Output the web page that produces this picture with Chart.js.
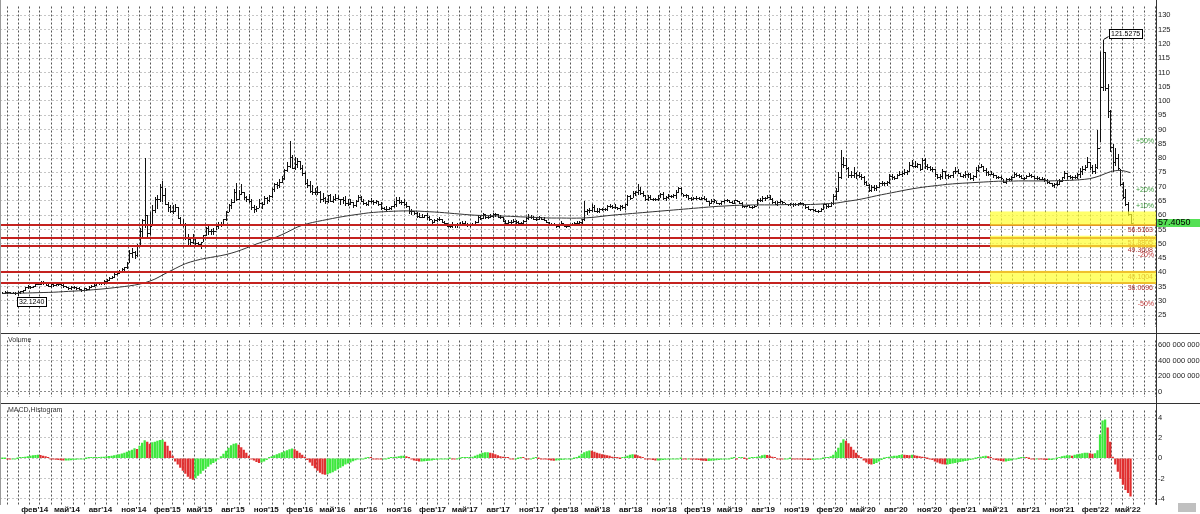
<!DOCTYPE html>
<html>
<head>
<meta charset="utf-8">
<script src="https://cdn.jsdelivr.net/npm/chart.js@4.4.1/dist/chart.umd.min.js"></script>
<style>
  body { margin: 0; background: #fff; width: 1200px; height: 514px; overflow: hidden; position: relative; }
  canvas { position: absolute; left: 0; }
  #priceCanvas { top: 0; }
  #volumeCanvas { top: 334px; }
  #macdCanvas { top: 404px; }
  .line { position: absolute; background: #333; }
  .tag { position: absolute; left: 8px; font: 7px "Liberation Sans", sans-serif; color: #333; }
</style>
</head>
<body>
<canvas id="priceCanvas" width="1200" height="333"></canvas>
<canvas id="volumeCanvas" width="1200" height="69"></canvas>
<canvas id="macdCanvas" width="1200" height="110"></canvas>
<div class="line" style="left:0;top:333px;width:1200px;height:1px"></div>
<div class="line" style="left:0;top:403px;width:1200px;height:1px"></div>
<div class="line" style="left:1156px;top:0;width:1px;height:505px"></div>
<div class="line" style="left:0;top:0;width:1px;height:505px;background:#999"></div>
<div style="position:absolute;left:1178px;top:503px;width:18px;height:9px;background:#c0c0c0"></div>
<div class="tag" style="top:336px">Volume</div>
<div class="tag" style="top:406px">MACD Histogram</div>
<script>
// weekly bars from 18 Nov 2013: [low, high, close]
const weekBars = [
  [32.6,33.2,32.9],[32.9,33.3,33.1],[32.8,33.2,33.0],[32.6,33.0,32.8],[32.6,33.0,32.8],[32.5,33.0,32.7],[32.124,33.3,33.0],
  [32.9,33.6,33.4],[33.2,33.8,33.7],[33.7,35.0,34.8],[34.6,35.5,35.2],[34.6,35.3,34.8],[34.8,35.3,35.1],[35.2,36.0,35.9],[35.8,36.5,36.0],
  [35.8,37.0,36.1],[35.9,36.8,36.6],[35.6,36.7,35.7],[35.1,36.0,35.2],[35.0,35.9,35.8],[35.2,36.2,35.5],[35.5,36.0,35.8],[35.6,36.2,35.8],
  [35.5,36.0,35.6],[35.0,35.8,35.1],[34.7,35.1,34.8],[34.2,34.9,34.4],[34.2,35.2,35.0],[34.5,35.1,34.7],[34.3,34.8,34.4],[34.2,34.8,34.2],
  [33.6,34.3,33.8],[33.9,34.6,34.4],[33.8,34.4,34.1],[34.2,35.2,35.0],[34.8,35.5,35.3],[35.2,36.0,35.7],[35.7,36.5,36.2],[35.8,36.4,36.1],
  [35.8,36.3,36.1],[36.0,37.3,37.0],[36.6,37.6,37.2],[37.2,38.2,38.1],[37.9,38.8,38.5],[38.2,39.6,39.4],[39.3,40.0,39.9],[39.8,40.8,40.6],
  [40.3,41.4,41.0],[40.8,42.0,41.7],[41.5,43.5,43.4],[43.5,47.8,46.8],[45.5,48.6,47.0],[45.0,47.5,46.0],[45.7,50.0,49.5],[50.0,55.5,54.6],
  [52.5,58.5,58.3],[56.0,80.1,60.0],[52.3,60.0,53.7],[53.3,61.0,56.2],
  [56.5,63.6,61.9],[61.0,66.5,65.5],[62.5,67.0,65.5],[65.0,71.0,69.7],[65.0,71.9,67.0],[64.0,69.6,64.0],[61.3,64.5,62.7],[61.0,63.5,61.5],
  [60.8,63.5,61.5],[61.5,64.0,62.8],[58.9,63.0,59.0],[56.5,59.5,57.0],[56.2,58.5,56.5],[51.5,57.2,52.0],[49.5,53.5,51.8],[49.8,52.5,50.5],
  [50.4,53.5,51.9],[49.5,52.3,50.4],[49.2,50.5,49.9],[48.5,50.6,50.5],[51.0,53.0,52.9],[53.0,56.0,55.5],[53.5,56.2,54.5],[53.3,55.2,54.6],
  [53.5,55.5,54.6],[55.0,56.7,56.3],[55.5,57.5,57.0],[56.2,57.5,56.8],[56.5,58.7,58.5],[58.2,61.5,61.0],[61.5,63.8,63.5],[62.5,65.5,64.7],
  [64.5,69.0,68.0],[65.2,71.2,65.7],[65.5,68.8,67.5],[67.5,70.8,68.0],[65.5,68.0,66.2],[64.8,66.7,65.7],[64.5,67.5,65.0],[62.2,65.5,62.8],
  [61.0,63.5,62.0],[61.3,63.3,62.5],[62.8,65.5,64.3],[62.5,64.6,64.0],[64.0,66.7,65.9],[64.4,66.5,65.2],[65.0,67.2,66.6],[66.5,69.5,69.0],
  [68.5,71.2,70.9],[69.5,71.7,70.7],[70.0,72.5,71.6],[71.5,73.7,72.9],
  [72.8,76.0,75.9],[75.5,78.6,77.3],[76.8,86.0,80.5],[76.5,81.0,76.6],[76.0,80.3,78.0],[77.0,80.2,78.9],[76.0,79.0,76.5],[74.0,77.5,74.9],
  [70.9,75.0,71.3],[70.0,72.5,70.5],[68.2,72.0,68.3],[67.5,70.5,68.0],[67.5,69.5,68.0],[67.5,70.3,68.0],[64.5,68.3,65.8],[64.9,67.8,66.0],
  [64.4,66.5,65.0],[64.6,67.2,66.9],[64.8,67.5,65.1],[64.6,66.8,65.7],[65.2,67.5,65.9],[65.6,67.2,65.6],[64.0,65.7,65.5],[64.4,66.4,65.4],
  [63.5,66.6,64.3],[63.6,65.5,63.9],[63.8,65.5,64.5],[63.0,64.5,63.5],[63.3,65.3,65.1],[65.0,67.2,66.5],[64.8,66.7,65.0],[64.0,65.5,64.2],
  [63.5,64.6,63.8],[63.7,65.3,64.8],[64.5,66.0,65.0],[64.0,65.2,64.5],[64.3,65.4,64.8],[63.5,64.8,63.9],[62.3,64.5,62.6],[62.0,63.0,62.3],
  [61.8,63.2,62.3],[62.0,62.8,62.6],[62.2,63.3,63.2],[63.0,64.8,63.9],[63.1,66.5,65.3],[64.2,66.3,64.6],[63.8,65.3,64.7],[63.5,65.5,63.9],
  [63.0,64.5,63.3],[60.8,63.3,61.5],[60.5,62.3,61.3],[60.3,61.5,60.7],
  [59.5,61.2,59.8],[59.3,60.8,59.5],[59.2,60.5,59.4],[59.3,60.2,59.9],[58.6,60.6,59.2],[58.4,59.6,58.6],[56.8,58.3,57.5],[57.5,58.5,58.2],
  [57.8,59.0,58.8],[58.3,59.4,58.6],[57.5,58.8,57.6],[57.0,58.0,57.3],[56.2,57.3,56.3],[55.7,56.8,56.3],[56.0,57.6,56.4],[55.8,56.8,56.7],
  [56.0,57.2,57.0],[56.8,57.5,56.8],[56.6,57.8,57.4],[56.5,57.8,56.9],[56.2,57.2,56.6],[56.2,56.9,56.7],[56.4,57.1,56.8],[56.6,57.9,57.7],
  [57.6,60.2,59.3],[58.8,59.8,59.1],[59.0,60.7,60.3],[59.1,60.5,59.4],[58.9,59.8,59.4],[59.3,60.3,59.8],[59.3,60.6,60.5],[59.7,60.6,60.3],
  [59.2,60.3,59.4],[59.0,60.0,59.4],[57.9,59.4,58.0],[57.2,58.2,57.3],[57.3,58.3,57.6],[57.3,58.3,57.6],[57.6,58.5,57.8],[57.4,58.3,57.5],
  [57.2,57.9,57.4],[57.0,57.6,57.3],[57.3,58.2,58.1],[57.9,59.3,58.9],[58.7,60.3,59.2],[59.1,60.2,59.3],[58.5,59.6,58.7],[58.2,59.0,58.5],
  [58.8,59.6,59.2],[58.5,59.3,58.8],[58.3,59.2,58.4],[57.5,58.3,57.6],
  [56.8,57.7,56.9],[56.5,57.4,56.7],[56.4,57.1,56.5],[55.7,56.7,56.3],[55.9,56.8,56.5],[56.4,58.0,57.2],[56.2,57.0,56.3],[55.9,56.4,56.2],
  [56.1,57.0,56.7],[56.6,57.4,56.9],[56.6,57.5,57.4],[57.0,57.9,57.2],[56.9,57.8,57.7],[57.2,58.5,58.5],[58.3,65.0,61.3],[60.5,62.0,61.7],
  [61.2,62.5,61.9],[61.6,64.0,62.8],[61.3,63.5,61.5],[61.0,62.5,61.6],[61.0,62.5,62.3],[61.8,62.6,62.1],[61.9,62.5,62.2],[61.8,63.5,63.2],
  [62.8,63.8,63.2],[62.5,63.6,62.8],[62.5,63.8,62.8],[62.0,63.0,62.5],[61.7,63.5,63.1],[62.5,63.5,62.7],[62.3,64.0,63.9],[63.7,66.9,66.8],
  [65.7,67.0,66.1],[66.2,68.5,67.9],[67.1,68.5,68.0],[67.5,70.8,68.8],[67.4,70.0,67.7],[66.8,68.5,66.9],[65.2,67.1,65.6],[65.3,67.1,66.4],
  [65.6,67.2,65.8],[65.2,66.1,65.7],[65.2,66.1,65.7],[65.3,67.0,66.0],[66.5,67.9,67.4],[65.7,68.0,66.0],[65.2,66.6,66.4],[66.0,67.3,66.6],
  [66.2,67.0,66.8],[66.3,67.3,66.9],[66.0,68.8,68.2],[68.0,69.9,69.4],[67.4,70.0,67.8],
  [66.8,67.5,66.9],[66.3,67.3,66.9],[65.7,67.0,66.0],[65.4,66.4,65.5],[65.6,66.4,66.1],[65.7,66.8,65.9],[65.5,66.3,65.7],[65.5,66.3,65.9],
  [65.6,66.6,65.7],[64.9,66.0,65.0],[63.6,65.1,64.3],[64.2,65.6,64.8],[64.6,65.8,65.2],[64.2,65.0,64.3],[63.8,64.4,64.1],[63.9,65.0,64.8],
  [64.6,65.4,65.3],[65.0,65.6,65.3],[64.6,65.3,64.6],[64.3,64.9,64.4],[64.4,65.4,65.3],[64.8,65.3,65.0],[64.1,65.1,64.4],[63.0,64.5,63.2],
  [62.9,63.3,63.1],[63.1,63.7,63.5],[62.8,63.7,63.0],[62.5,63.2,62.9],[62.9,63.5,63.3],[63.4,65.5,65.2],[64.8,65.9,65.3],[65.1,66.7,66.0],
  [65.3,66.4,65.9],[65.9,66.9,66.5],[65.6,66.9,65.8],[64.3,65.9,64.5],[63.8,64.9,63.9],[63.7,64.8,64.6],[64.5,65.5,64.9],[64.3,65.1,64.5],
  [63.9,64.4,64.0],[63.7,64.0,63.8],[63.6,64.2,63.8],[63.3,64.2,63.9],[63.7,64.2,63.8],[63.5,64.1,64.1],[63.9,64.5,64.2],[63.7,64.4,63.8],
  [62.6,63.9,62.8],[62.3,63.2,62.3],[61.9,62.3,62.0],[61.7,62.2,61.9],
  [61.3,62.2,61.3],[61.0,61.8,61.5],[61.3,62.6,62.3],[62.3,64.0,63.9],[62.6,64.0,63.3],[62.9,64.0,63.3],[63.2,64.5,64.3],[64.0,67.3,66.8],
  [65.5,69.5,68.6],[68.5,75.0,73.5],[73.0,82.9,78.1],[76.7,80.5,77.7],[76.3,80.0,76.5],[73.5,77.0,74.0],[73.3,75.3,74.0],[73.5,76.8,74.8],
  [73.0,75.2,74.2],[73.3,75.2,73.7],[72.8,74.3,73.3],[71.0,73.6,71.6],[70.5,71.8,70.7],[68.3,70.8,68.7],[68.4,70.5,69.7],[68.8,70.4,69.4],
  [68.7,70.4,69.9],[69.8,71.5,71.3],[70.7,71.9,71.2],[70.5,71.6,71.1],[70.6,71.8,71.5],[71.3,74.3,73.7],[72.8,74.5,73.2],[72.7,73.8,73.1],
  [72.9,74.3,74.2],[73.9,75.6,74.4],[73.6,75.3,74.8],[74.5,76.2,75.1],[74.4,75.7,75.4],[75.4,78.5,77.5],[77.3,79.5,77.2],[76.7,79.0,77.1],
  [76.9,78.3,77.8],[75.7,78.0,76.3],[76.3,80.0,79.3],[76.5,80.0,77.1],[76.2,77.8,77.0],[75.9,77.3,76.1],[75.3,76.7,76.0],[73.8,76.0,74.3],
  [72.9,74.3,73.2],[72.5,74.3,73.8],[73.1,76.2,75.6],[73.0,75.3,73.9],
  [72.9,74.4,73.7],[73.2,74.2,73.9],[73.4,75.6,75.3],[74.7,76.7,75.6],[74.8,76.3,74.8],[73.6,74.9,73.8],[73.3,74.4,74.0],[73.2,75.3,74.4],
  [73.3,74.7,74.4],[72.8,74.6,73.0],[72.4,74.0,73.8],[73.5,76.8,75.8],[75.5,77.5,77.0],[76.9,77.9,77.1],[75.5,77.2,75.8],[74.0,76.4,75.0],
  [74.2,75.6,74.5],[74.4,75.4,74.5],[73.5,74.9,73.9],[73.1,74.2,73.5],[73.0,73.7,73.3],[72.8,73.6,72.9],[71.5,72.8,71.7],[71.3,73.1,72.6],
  [72.2,73.0,72.6],[72.4,73.6,73.4],[73.3,75.0,74.5],[73.7,74.6,74.0],[73.4,74.4,73.8],[72.9,73.9,73.1],[72.8,73.4,73.0],[72.9,73.9,73.6],
  [73.6,74.6,74.1],[73.5,74.4,73.6],[72.9,73.6,72.9],[72.5,73.7,72.9],[72.6,73.2,72.8],[72.6,73.2,72.8],[72.0,73.1,72.4],[71.4,72.8,71.5],
  [71.2,71.9,71.3],[70.3,71.3,70.5],[69.9,71.1,70.9],[70.6,71.8,71.0],[70.8,72.8,72.0],[72.0,73.5,73.3],[73.0,75.3,74.8],[73.1,74.6,73.6],
  [73.1,74.1,73.3],[72.7,73.8,73.5],[72.9,74.2,73.4],[73.0,74.6,74.3],
  [73.5,76.6,75.4],[74.5,77.1,76.3],[75.9,77.5,76.9],[77.0,80.4,78.5],[76.2,78.5,77.0],[74.7,77.6,75.4],[74.8,78.0,77.0],[76.5,89.99,83.6],
  [86.0,117.0,105.0],[104.0,121.5275,117.0],[104.0,117.0,104.5],[94.5,106.0,96.5],[82.5,97.0,84.0],[75.5,85.0,78.5],[77.5,83.5,80.0],[76.0,81.5,76.5],
  [70.5,76.0,71.0],[66.0,71.5,66.5],[63.5,69.0,64.0],[60.0,64.5,60.5],[56.8,60.5,57.405]
];

// moving average, one value every 4 weeks
const maLine = [
  32.6,32.65,32.7,32.8,32.9,33.0,33.2,33.4,33.6,33.9,34.2,34.6,35.0,35.5,36.3,37.6,39.5,41.3,43.0,44.1,44.9,45.5,46.2,47.2,
  48.5,49.9,51.1,52.4,54.0,55.8,57.0,57.8,58.5,59.2,59.8,60.3,60.8,61.1,61.3,61.45,61.5,61.4,61.2,61.0,60.7,60.4,60.1,59.9,
  59.8,59.7,59.6,59.4,59.3,59.1,59.0,59.0,58.95,59.0,59.2,59.6,60.0,60.3,60.6,60.9,61.2,61.5,61.8,62.1,62.4,62.7,63.0,63.2,
  63.4,63.5,63.6,63.6,63.6,63.7,63.7,63.7,63.8,64.0,64.2,64.8,65.3,66.0,66.8,67.5,68.2,68.9,69.5,70.0,70.4,70.8,71.1,71.3,
  71.5,71.7,71.9,71.9,72.0,72.0,72.0,72.0,72.1,72.2,72.4,72.8,73.8,75.2,75.7,74.9
];

// weekly MACD histogram
const macdHist = [
  0,0,-0.02,-0.03,-0.03,-0.02,0,0.02,0.05,
  0.1,0.15,0.2,0.25,0.28,0.3,0.28,0.22,0.15,0.07,
  -0.02,-0.08,-0.12,-0.15,-0.18,-0.2,-0.2,-0.2,-0.18,-0.15,-0.12,-0.08,-0.05,-0.02,
  0,0.02,0.03,0.05,0.06,0.08,0.1,
  0.12,0.15,0.18,0.22,0.26,0.3,0.36,0.42,0.5,0.6,0.7,0.8,0.95,
  0.88,1.2,1.5,1.75,1.6,1.4,1.55,1.6,1.7,1.76,1.8,1.6,1.2,0.7,0.2,
  -0.3,-0.6,-0.9,-1.2,-1.5,-1.8,-2.0,-2.1,-1.95,-1.7,-1.5,-1.2,-1.0,-0.8,-0.6,-0.45,-0.3,-0.1,0.15,
  0.4,0.7,1.0,1.25,1.4,1.45,1.3,1.05,0.8,0.5,0.2,
  -0.05,-0.2,-0.35,-0.45,-0.4,-0.3,-0.15,
  0.05,0.15,0.25,0.35,0.45,0.55,0.65,0.75,0.85,0.93,
  0.85,0.7,0.5,0.3,0.1,-0.15,-0.4,
  -0.7,-0.95,-1.2,-1.4,-1.55,-1.6,-1.55,
  -1.45,-1.35,-1.2,-1.05,-0.9,-0.75,-0.6,-0.48,-0.38,-0.28,-0.18,-0.1,-0.05,
  -0.02,0,0.02,0.01,-0.02,-0.04,-0.05,-0.06,-0.05,-0.03,0,0.04,0.08,0.1,0.15,
  0.2,0.2,0.15,0.05,
  -0.1,-0.2,-0.25,-0.3,-0.3,-0.28,-0.25,-0.22,-0.2,-0.15,-0.12,-0.08,-0.05,-0.04,-0.02,
  0,-0.02,-0.03,-0.02,0,0.02,0.02,0.03,
  0.05,0.1,0.2,0.3,0.4,0.5,0.55,0.55,0.5,0.45,0.35,0.25,0.15,0.1,0.05,0.02,
  -0.03,-0.05,-0.03,0,0.02,0.01,-0.02,-0.03,-0.02,0,0.02,0,-0.03,-0.06,
  -0.1,-0.15,-0.2,-0.22,-0.2,-0.18,-0.15,-0.12,-0.1,-0.07,-0.04,0,0.05,
  0.2,0.4,0.55,0.65,0.72,0.7,0.6,0.5,0.42,0.35,0.3,0.25,0.2,0.12,0.06,0.02,0,
  0.05,0.12,0.2,0.3,0.35,0.33,0.25,0.15,0.05,-0.02,
  -0.05,-0.1,-0.15,-0.2,-0.2,-0.17,-0.15,-0.12,-0.1,-0.08,-0.05,-0.05,-0.03,0,
  -0.03,-0.05,-0.04,-0.06,-0.1,-0.12,-0.15,
  -0.2,-0.22,-0.25,-0.25,-0.22,-0.2,-0.17,-0.15,-0.12,-0.1,-0.06,-0.03,
  0,0.02,-0.02,0.01,0.03,0,-0.02,0,0.03,0.06,0.1,
  0.15,0.25,0.3,0.28,0.2,0.1,0.03,
  -0.02,-0.05,-0.06,-0.04,-0.02,0,-0.02,-0.04,-0.06,
  -0.08,-0.1,-0.12,-0.14,-0.15,-0.15,-0.12,-0.08,-0.04,0,0.03,0.08,
  0.15,0.3,0.6,1.0,1.5,1.85,1.7,1.45,1.1,0.8,0.5,0.25,0.05,
  -0.2,-0.4,-0.55,-0.6,-0.55,-0.45,-0.3,
  -0.15,0,0.05,0.1,0.15,0.2,0.22,
  0.28,0.33,0.3,0.28,0.25,0.3,
  0.25,0.2,0.15,0.1,0.05,0,-0.05,
  -0.15,-0.3,-0.4,-0.5,-0.56,-0.6,
  -0.58,-0.55,-0.5,-0.45,-0.4,-0.35,-0.3,-0.25,-0.2,-0.15,-0.08,
  0,0.05,0.1,0.15,0.2,0.15,0.05,
  -0.1,-0.15,-0.2,-0.25,-0.3,-0.3,-0.25,-0.2,-0.1,
  -0.05,0,0.02,0.03,0.02,0,-0.02,-0.03,-0.03,-0.05,
  -0.1,-0.12,-0.15,-0.15,-0.15,-0.1,
  0,0.08,0.15,0.2,0.25,0.25,0.2,
  0.3,0.35,0.4,0.45,0.5,0.5,0.45,0.4,0.45,
  0.75,2.3,3.7,3.8,3.0,1.6,0.1,-0.6,-1.3,-2.0,-2.6,-3.1,-3.4,-3.75
];

const priceTicks = [25,30,35,40,45,50,55,60,65,70,75,80,85,90,95,100,105,110,115,120,125,130];
const volumeTicks = [0, 200000000, 400000000, 600000000];
const macdTicks = [-4, -2, 0, 2, 4];
const monthLabels = [
  "фев'14","май'14","авг'14","ноя'14","фев'15","май'15","авг'15","ноя'15","фев'16","май'16","авг'16","ноя'16",
  "фев'17","май'17","авг'17","ноя'17","фев'18","май'18","авг'18","ноя'18","фев'19","май'19","авг'19","ноя'19",
  "фев'20","май'20","авг'20","ноя'20","фев'21","май'21","авг'21","ноя'21","фев'22","май'22"
];
const levelLines = [56.5163, 51.8805, 49.3608, 40.1004, 36.0696];
const pctLevels = [86.11, 68.89, 63.15, 51.66, 45.92, 28.70];
const pctLabels = ["+50%", "+20%", "+10%", "-10%", "-20%", "-50%"];
const zones = [[56.3, 61.3], [48.7, 52.8], [35.9, 40.5]];
const lastPrice = 57.405;
const peakWeek = 433, troughWeek = 6;

const SMALL = "'Liberation Sans', sans-serif";
const t0 = Date.UTC(2013, 11, 1);
const dayOf = (y, m, d) => (Date.UTC(y, m, d) - t0) / 864e5;
const weekDay = i => dayOf(2013, 10, 18) + 7 * i;
const xMin = -19.6, xMax = 3165.2;
const zoneFrom = dayOf(2021, 4, 1);

const monthStarts = [];
for (let k = 0; k <= 104; k++) monthStarts.push(dayOf(2013, 11 + k, 1));
const labelDays = monthLabels.map((_, k) => dayOf(2014, 1 + 3 * k, 15));

function monthGrid() {
  return {
    type: "linear", min: xMin, max: xMax, position: "bottom", offset: false,
    afterBuildTicks: s => { s.ticks = monthStarts.map(v => ({ value: v })); },
    afterFit: s => { s.height = 0; },
    ticks: { display: false },
    grid: { color: "#555", drawTicks: false, offset: false },
    border: { display: false, dash: [2, 2] }
  };
}
function rightAxis(min, max, ticks, fmt, gridColor) {
  return {
    position: "right", min: min, max: max,
    afterBuildTicks: s => { s.ticks = ticks.map(v => ({ value: v })); },
    afterFit: s => { s.width = 44; },
    ticks: { font: { family: SMALL, size: 7.5 }, color: "#222", padding: 2, callback: fmt },
    grid: { color: gridColor || "#c6c6c6", drawTicks: false },
    border: { display: false, dash: [2, 2] }
  };
}
const base = { responsive: false, animation: false, events: [], layout: { padding: 0 },
  plugins: { legend: { display: false }, tooltip: { enabled: false } } };

const priceMarks = {
  id: "priceMarks",
  beforeDatasetsDraw(chart) {
    const { ctx, scales: { x, y } } = chart;
    ctx.save();
    ctx.fillStyle = "#111";
    weekBars.forEach((b, i) => {
      const px = Math.round(x.getPixelForValue(weekDay(i)));
      const yh = Math.round(y.getPixelForValue(b[1]));
      const yl = Math.round(y.getPixelForValue(b[0]));
      ctx.fillRect(px, yh, 1, Math.max(1, yl - yh + 1));
      ctx.fillRect(px + 1, Math.round(y.getPixelForValue(b[2])), 1, 1);
      if (i > 0) ctx.fillRect(px - 1, Math.round(y.getPixelForValue(weekBars[i - 1][2])), 1, 1);
    });
    ctx.restore();
  },
  afterDatasetsDraw(chart) {
    const { ctx, chartArea: a, scales: { x, y } } = chart;
    ctx.save();
    ctx.font = "7px " + SMALL;
    // support / resistance lines
    ctx.fillStyle = "#c4221f";
    levelLines.forEach(v => ctx.fillRect(a.left, Math.round(y.getPixelForValue(v)) - 1, a.right - a.left, 2));
    ctx.textAlign = "right";
    ctx.textBaseline = "top";
    ctx.fillStyle = "#a83030";
    levelLines.forEach(v => ctx.fillText(v.toFixed(4), 1153, y.getPixelForValue(v) + 1.5));
    ctx.textBaseline = "middle";
    pctLevels.forEach((v, k) => {
      ctx.fillStyle = pctLabels[k][0] === "+" ? "#3a9a3a" : "#c23a3a";
      ctx.fillText(pctLabels[k], 1154, y.getPixelForValue(v));
    });
    // highlighted zones
    ctx.fillStyle = "rgba(255,255,50,0.72)";
    const zx = x.getPixelForValue(zoneFrom);
    zones.forEach(z => {
      const top = y.getPixelForValue(z[1]), bot = y.getPixelForValue(z[0]);
      ctx.fillRect(zx, top, a.right - zx, bot - top);
    });
    // extreme value boxes
    ctx.textAlign = "left";
    ctx.strokeStyle = "#000";
    ctx.lineWidth = 1;
    const box = (text, bx, by) => {
      const w = Math.ceil(ctx.measureText(text).width) + 3;
      ctx.fillStyle = "#fff";
      ctx.fillRect(bx, by, w, 9);
      ctx.strokeRect(bx + 0.5, by + 0.5, w, 9);
      ctx.fillStyle = "#000";
      ctx.fillText(text, bx + 2, by + 5);
    };
    const pkx = x.getPixelForValue(weekDay(peakWeek)), pky = y.getPixelForValue(weekBars[peakWeek][1]);
    ctx.beginPath(); ctx.moveTo(pkx + 1, pky); ctx.lineTo(pkx + 6, pky - 3); ctx.stroke();
    box(weekBars[peakWeek][1].toFixed(4), Math.round(pkx + 6), Math.round(pky - 11));
    const trx = x.getPixelForValue(weekDay(troughWeek)), tr_y = y.getPixelForValue(weekBars[troughWeek][0]);
    box(weekBars[troughWeek][0].toFixed(4), Math.round(trx - 1), Math.round(tr_y + 2));
    // last price on the axis
    const ly = y.getPixelForValue(lastPrice);
    ctx.fillStyle = "#55e055";
    ctx.fillRect(a.right + 1, Math.round(ly) - 4, 44, 8);
    ctx.fillStyle = "#000";
    ctx.font = "9px " + SMALL;
    ctx.fillText(lastPrice.toFixed(4), a.right + 2, ly);
    ctx.restore();
  }
};

new Chart(document.getElementById("priceCanvas"), {
  type: "line",
  data: {
    datasets: [{
      data: maLine.map((v, k) => ({ x: weekDay(4 * k), y: v })),
      borderColor: "#333", borderWidth: 1, pointRadius: 0, tension: 0.3
    }]
  },
  options: Object.assign({}, base, {
    scales: { x: monthGrid(), y: rightAxis(21.0, 133.1, priceTicks) }
  }),
  plugins: [priceMarks]
});

new Chart(document.getElementById("volumeCanvas"), {
  type: "line",
  data: { datasets: [] },
  options: Object.assign({}, base, {
    scales: {
      x: monthGrid(),
      y: Object.assign(rightAxis(-63e6, 663e6, volumeTicks,
        v => String(v).replace(/\B(?=(\d{3})+(?!\d))/g, " ")), {
        grid: { color: c => (c.tick && c.tick.value === 0 ? "#8a8a8a" : "#c6c6c6"), drawTicks: false }
      })
    }
  })
});

new Chart(document.getElementById("macdCanvas"), {
  type: "bar",
  data: {
    datasets: [{
      data: macdHist.map((v, i) => ({ x: weekDay(i), y: v })),
      backgroundColor: macdHist.map((v, i) => (i > 0 && v < macdHist[i - 1] ? "#e03030" : "#3ee83e")),
      barThickness: 1.6, minBarLength: 1, grouped: false, borderWidth: 0
    }]
  },
  options: Object.assign({}, base, {
    scales: {
      x: monthGrid(),
      xl: {
        type: "linear", min: xMin, max: xMax, position: "bottom", offset: false,
        afterBuildTicks: s => { s.ticks = labelDays.map(v => ({ value: v })); },
        afterFit: s => { s.height = 9; },
        ticks: { callback: (v, i) => monthLabels[i], autoSkip: false, maxRotation: 0, padding: 0,
          font: { family: SMALL, size: 8, weight: "bold" }, color: "#111" },
        grid: { display: false, drawTicks: false, offset: false },
        border: { display: false }
      },
      y: rightAxis(-4.62, 4.71, macdTicks)
    }
  })
});
</script>
</body>
</html>
